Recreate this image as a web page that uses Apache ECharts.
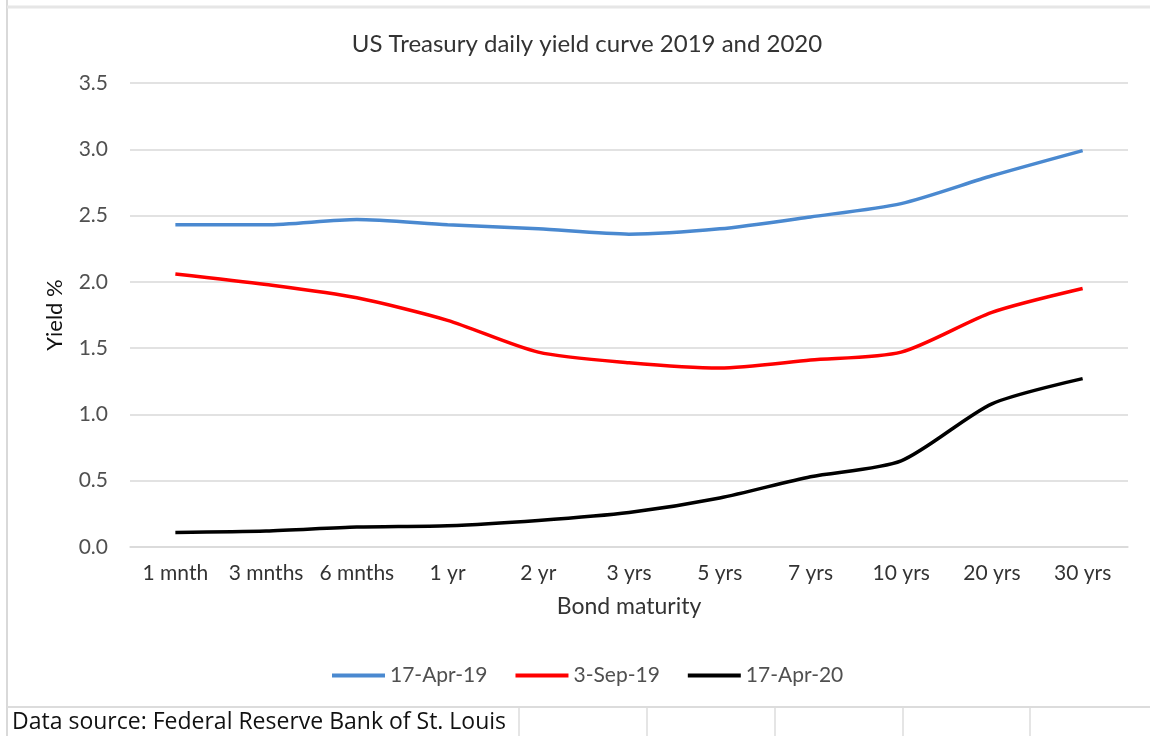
<!DOCTYPE html>
<html>
<head>
<meta charset="utf-8">
<script src="https://cdn.jsdelivr.net/npm/echarts@6/dist/echarts.min.js"></script>
<style>
  html, body { margin: 0; padding: 0; background: #fff; }
  #chart { width: 1150px; height: 736px; }
</style>
</head>
<body>
<div id="chart"></div>
<script>
var maturities = ['1 mnth', '3 mnths', '6 mnths', '1 yr', '2 yr', '3 yrs', '5 yrs', '7 yrs', '10 yrs', '20 yrs', '30 yrs'];
var yieldApr19 = [2.43, 2.43, 2.47, 2.43, 2.40, 2.36, 2.40, 2.49, 2.59, 2.80, 2.99];
var yieldSep19 = [2.06, 1.98, 1.88, 1.71, 1.47, 1.39, 1.35, 1.41, 1.47, 1.77, 1.95];
var yieldApr20 = [0.11, 0.12, 0.15, 0.16, 0.20, 0.26, 0.37, 0.53, 0.65, 1.08, 1.27];
var seriesNames = ['17-Apr-19', '3-Sep-19', '17-Apr-20'];
var cellLines = [519, 647, 775, 903, 1030];

var myChart = echarts.init(document.getElementById('chart'));
var font = 'Lato';

var graphics = [
    // sheet frame
    {type: 'line', shape: {x1: 7, y1: 0, x2: 7, y2: 736}, style: {stroke: '#d9d9d9', lineWidth: 2}},
    {type: 'line', shape: {x1: 7, y1: 7, x2: 1150, y2: 7}, style: {stroke: '#e6e6e6', lineWidth: 3}},
    {type: 'line', shape: {x1: 7, y1: 707, x2: 1150, y2: 707}, style: {stroke: '#dcdcdc', lineWidth: 2}},
    {type: 'text', x: 12, y: 722,
        style: {text: 'Data source: Federal Reserve Bank of St. Louis', fill: '#111', font: '23px "Open Sans"', verticalAlign: 'middle'}}
];
cellLines.forEach(function (x) {
    graphics.push({type: 'line', shape: {x1: x, y1: 707, x2: x, y2: 736}, style: {stroke: '#dcdcdc', lineWidth: 1.5}});
});

var colors = ['#4a89d0', '#ff0000', '#000000'];
var lists = [yieldApr19, yieldSep19, yieldApr20];

option = {
    backgroundColor: '#fff',
    color: colors,
    textStyle: {fontFamily: font},
    title: {
        text: 'US Treasury daily yield curve 2019 and 2020',
        left: 582,
        textAlign: 'center',
        top: 27,
        textStyle: {fontSize: 24, fontWeight: 'normal', color: '#333', fontFamily: font}
    },
    legend: {
        top: 660,
        left: 327,
        icon: 'rect',
        itemWidth: 53,
        itemHeight: 4,
        itemGap: 28,
        textStyle: {fontSize: 21, color: '#505050', fontFamily: font},
        data: seriesNames
    },
    grid: {left: 130, right: 22, top: 83, bottom: 189},
    xAxis: {
        type: 'category',
        data: maturities,
        boundaryGap: true,
        name: 'Bond maturity',
        nameLocation: 'middle',
        nameGap: 48,
        nameTextStyle: {fontSize: 23, color: '#333', fontFamily: font},
        axisLine: {lineStyle: {color: '#d9d9d9', width: 1.5}},
        axisTick: {show: false},
        axisLabel: {fontSize: 21, color: '#333', margin: 16, interval: 0}
    },
    yAxis: {
        type: 'value',
        min: 0,
        max: 3.5,
        interval: 0.5,
        name: 'Yield %',
        nameLocation: 'middle',
        nameGap: 64,
        nameTextStyle: {fontSize: 22, color: '#111', fontFamily: font},
        axisLine: {show: false},
        axisTick: {show: false},
        axisLabel: {
            fontSize: 21, color: '#505050', margin: 22,
            formatter: function (v) { return v.toFixed(1); }
        },
        splitLine: {lineStyle: {color: '#d9d9d9', width: 1.5}}
    },
    graphic: graphics,
    series: lists.map(function (d, i) {
        return {
            name: seriesNames[i],
            type: 'line',
            data: d,
            smooth: 0.25,
            symbol: 'none',
            lineStyle: {width: 3.5, color: colors[i]}
        };
    })
};
myChart.setOption(option);
</script>
</body>
</html>
